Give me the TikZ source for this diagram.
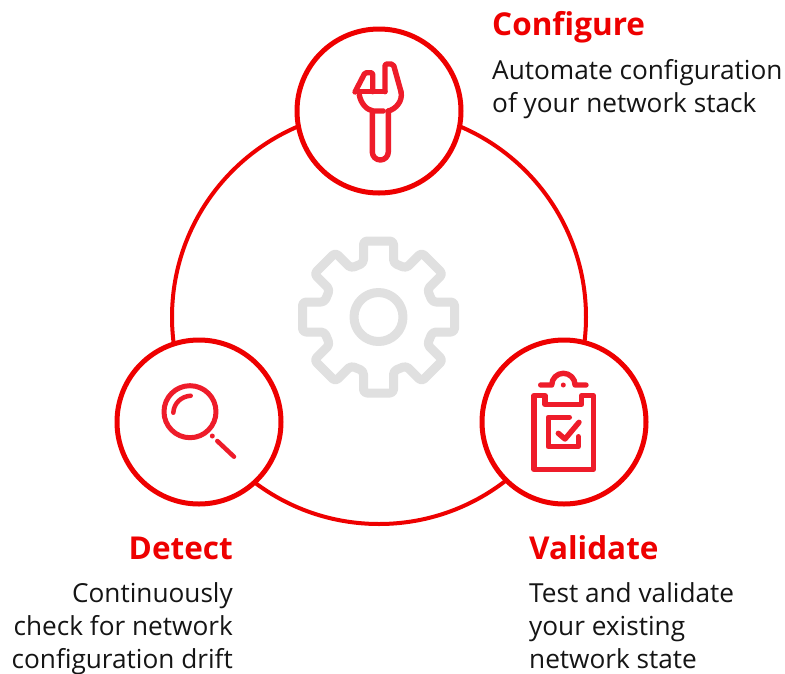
\documentclass[tikz,border=0pt]{standalone}
\usepackage{fontspec}
\setmainfont{Open Sans}
\definecolor{rhred}{HTML}{EE0000}
\definecolor{iconred}{HTML}{EE1C2A}
\definecolor{geargray}{HTML}{E0E0E0}
\definecolor{ink}{HTML}{151515}
\tikzset{
  hub/.style={circle,draw=rhred,line width=5pt,fill=white,minimum size=164pt,inner sep=0pt},
  ring/.style={draw=rhred,line width=4pt},
  icon/.style={draw=iconred,line width=5.4pt,line cap=round,line join=round},
  gearline/.style={draw=geargray,line width=9pt,line join=round},
  head/.style={font=\fontsize{31.5}{31.5}\selectfont\bfseries,text=rhred,inner sep=0pt},
  body/.style={font=\fontsize{26.2}{26.2}\selectfont,text=ink,inner sep=0pt}
}
\begin{document}
\begin{tikzpicture}[x=1pt,y=-1pt]
\useasboundingbox (0,0) rectangle (785,673);
\fill[white] (0,0) rectangle (785,673);
\coordinate (c) at (378.5,317);
\draw[ring] (379,317) circle[radius=207];
% gear
\draw[gearline] (c) circle[radius=24.5];
\draw[gearline,rounded corners=3.5pt,shift={(c)}]
  (-15,-76) -- (15,-76) -- (15,-54)
  -- ([rotate=-45]-15,-54) -- ([rotate=-45]-15,-76) -- ([rotate=-45]15,-76) -- ([rotate=-45]15,-54)
  -- ([rotate=-90]-15,-54) -- ([rotate=-90]-15,-76) -- ([rotate=-90]15,-76) -- ([rotate=-90]15,-54)
  -- ([rotate=-135]-15,-54) -- ([rotate=-135]-15,-76) -- ([rotate=-135]15,-76) -- ([rotate=-135]15,-54)
  -- ([rotate=-180]-15,-54) -- ([rotate=-180]-15,-76) -- ([rotate=-180]15,-76) -- ([rotate=-180]15,-54)
  -- ([rotate=-225]-15,-54) -- ([rotate=-225]-15,-76) -- ([rotate=-225]15,-76) -- ([rotate=-225]15,-54)
  -- ([rotate=-270]-15,-54) -- ([rotate=-270]-15,-76) -- ([rotate=-270]15,-76) -- ([rotate=-270]15,-54)
  -- ([rotate=-315]-15,-54) -- ([rotate=-315]-15,-76) -- ([rotate=-315]15,-76) -- ([rotate=-315]15,-54)
  -- (-15,-54) -- cycle;
% hubs
\node[hub] (configure) at (379,111) {};
\node[hub] (validate) at (564,422) {};
\node[hub] (detect) at (199,422) {};
% wrench
\draw[icon] (372.3,113) -- (372.3,152) arc[start angle=180,end angle=0,radius=8] -- (388.3,111);
\draw[icon,rounded corners=1.5pt] (355,92) -- (365,72.7) -- (372.7,72.7) -- (372.7,91.7);
\draw[icon] (356,91.7) -- (385,91.7);
\draw[icon,rounded corners=2pt] (385,91.7) -- (385,64) -- (393.3,64) -- (401,91.7);
\draw[icon] (401,91.7) .. controls (403,101) and (396,109) .. (388.3,111);
\draw[icon] (359.3,95) .. controls (361,104) and (367,110) .. (373.3,111) -- (383.3,111);
% clipboard
\draw[icon] (545,395.7) -- (534,395.7) -- (534,469.3) -- (593.3,469.3) -- (593.3,395.7) -- (581.7,395.7) -- (581.7,404.3) -- (545,404.3) -- cycle;
\draw[icon] (540.7,385) -- (551.7,385) arc[start angle=180,end angle=0,radius=11.7,y radius=-11.7] -- (586,385);
\fill[iconred] (563.3,385) circle[radius=2.5];
\draw[icon] (569.3,417.3) -- (548.3,417.3) -- (548.3,446.7) -- (578.3,446.7) -- (578.3,436.7);
\draw[icon] (558.3,433.3) -- (565,439) -- (579,422.3);
% magnifier
\draw[icon,line width=5pt] (190,411.7) circle[radius=26];
\draw[icon,line width=4.5pt] (173.3,412.7) .. controls (174,403) and (181,396.5) .. (190.7,395.7);
\fill[iconred] (212.3,436) circle[radius=2.5];
\draw[icon,line width=4.5pt] (217.3,441) -- (234,456.7);
% labels
\node[head,anchor=base west] (t1) at (492,35) {Configure};
\node[body,anchor=base west] (t1a) at (492,79) {Automate configuration};
\node[body,anchor=base west] (t1b) at (492,112) {of your network stack};
\node[head,anchor=base west] (t2) at (529,559) {Validate};
\node[body,anchor=base west] (t2a) at (529,602) {Test and validate};
\node[body,anchor=base west] (t2b) at (529,635) {your existing};
\node[body,anchor=base west] (t2c) at (529,668) {network state};
\node[head,anchor=base east] (t3) at (233,559) {Detect};
\node[body,anchor=base east] (t3a) at (233,602) {Continuously};
\node[body,anchor=base east] (t3b) at (233,635) {check for network};
\node[body,anchor=base east] (t3c) at (233,668) {configuration drift};
\end{tikzpicture}
\end{document}
